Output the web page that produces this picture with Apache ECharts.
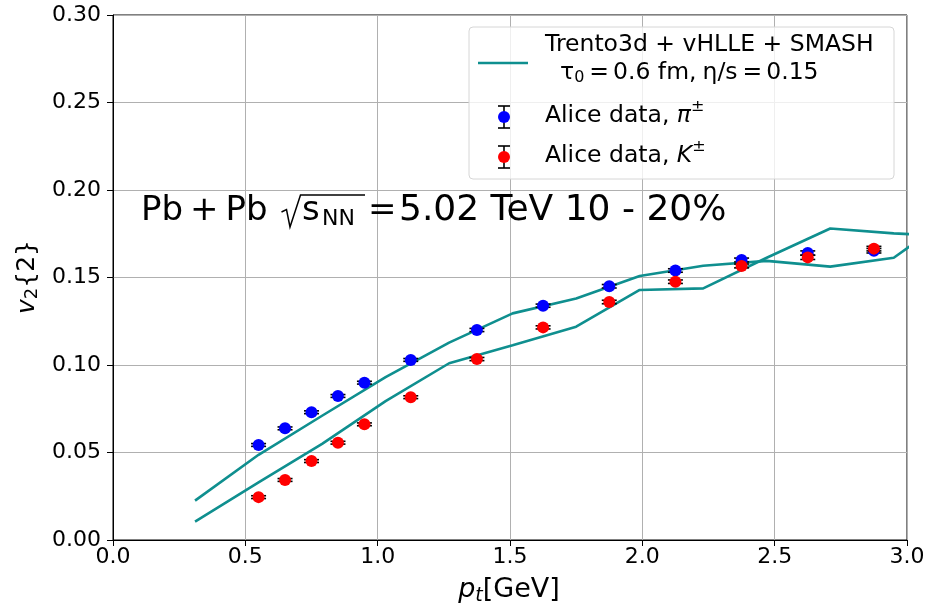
<!DOCTYPE html>
<html>
<head>
<meta charset="utf-8">
<script src="https://cdn.jsdelivr.net/npm/echarts@6/dist/echarts.min.js"></script>
<style>
html,body{margin:0;padding:0;background:#fff;}
#chart{width:928px;height:614px;}
</style>
</head>
<body>
<div id="chart"></div>
<script>
// ---- data ----
const ptModel = [0.31, 0.55, 0.79, 1.03, 1.27, 1.51, 1.75, 1.99, 2.23, 2.47, 2.71, 2.95, 3.19];
const v2PionModel = [0.0225, 0.0487, 0.0710, 0.0931, 0.1128, 0.1295, 0.1380, 0.1509, 0.1567, 0.1595, 0.1562, 0.1613, 0.1870];
const v2KaonModel = [0.0105, 0.0329, 0.0549, 0.0794, 0.1010, 0.1113, 0.1219, 0.1429, 0.1438, 0.1613, 0.1780, 0.1752, 0.1735];

const ptData = [0.55, 0.65, 0.75, 0.85, 0.95, 1.125, 1.375, 1.625, 1.875, 2.125, 2.375, 2.625, 2.875];
const v2Pion = [0.0543, 0.0638, 0.0730, 0.0823, 0.0899, 0.1029, 0.1200, 0.1339, 0.1450, 0.1540, 0.1600, 0.1640, 0.1653];
const v2PionErr = [0.0008, 0.0008, 0.0008, 0.0008, 0.0008, 0.0008, 0.0009, 0.0009, 0.0010, 0.0010, 0.0011, 0.0012, 0.0013];
const v2Kaon = [0.0245, 0.0343, 0.0451, 0.0556, 0.0661, 0.0816, 0.1034, 0.1215, 0.1360, 0.1476, 0.1566, 0.1615, 0.1665];
const v2KaonErr = [0.0008, 0.0008, 0.0008, 0.0008, 0.0008, 0.0008, 0.0009, 0.0009, 0.0010, 0.0010, 0.0011, 0.0012, 0.0013];

const xTicks = [0.0, 0.5, 1.0, 1.5, 2.0, 2.5, 3.0];
const yTicks = [0.00, 0.05, 0.10, 0.15, 0.20, 0.25, 0.30];

// ---- helpers ----
const FONT = '"DejaVu Sans", "Liberation Sans", sans-serif';
const TEAL = '#0f8f8f';
const mctx = document.createElement('canvas').getContext('2d');
function tw(t, fs, italic) {
  mctx.font = (italic ? 'italic ' : '') + fs + 'px ' + FONT;
  return mctx.measureText(t).width;
}
// compose a run of text pieces starting at x (left), centre line y
function runs(x, y, parts) {
  const out = [];
  let cx = x;
  parts.forEach(p => {
    if (p.gap) { cx += p.gap; return; }
    if (p.x !== undefined) cx = p.x;
    const w = tw(p.t, p.fs, p.italic);
    out.push({
      type: 'text', x: cx, y: y + (p.dy || 0), z: 100,
      style: {
        text: p.t, fill: '#000', fontSize: p.fs, fontFamily: FONT,
        fontStyle: p.italic ? 'italic' : 'normal',
        verticalAlign: 'middle', align: 'left'
      }
    });
    p._x = cx; p._w = w;
    cx += w;
  });
  return {els: out, width: cx - x, parts: parts};
}
function runsWidth(parts) {
  let w = 0;
  parts.forEach(p => { w += p.gap ? p.gap : tw(p.t, p.fs, p.italic); });
  return w;
}

const chart = echarts.init(document.getElementById('chart'), null, {renderer: 'canvas'});

const toPairs = (xs, ys) => xs.map((x, i) => [x, ys[i]]);
const toErr = (xs, ys, es) => xs.map((x, i) => [x, ys[i], es[i]]);

function errRender(params, api) {
  const x = api.value(0), y = api.value(1), e = api.value(2);
  const lo = api.coord([x, y - e]);
  const hi = api.coord([x, y + e]);
  const hw = 7.5;
  const st = {stroke: '#000', lineWidth: 1.6};
  return {
    type: 'group',
    children: [
      {type: 'line', shape: {x1: lo[0], y1: lo[1], x2: hi[0], y2: hi[1]}, style: st},
      {type: 'line', shape: {x1: lo[0] - hw, y1: lo[1], x2: lo[0] + hw, y2: lo[1]}, style: st},
      {type: 'line', shape: {x1: hi[0] - hw, y1: hi[1], x2: hi[0] + hw, y2: hi[1]}, style: st}
    ]
  };
}

// ---- text graphics ----
const graphics = [];

// Annotation: Pb + Pb sqrt(s_NN) = 5.02 TeV 10 - 20%
const AF = 34;
const annParts = [
  {t: 'Pb', fs: AF, x: 141},
  {gap: 7},
  {t: '+', fs: AF},
  {gap: 7},
  {t: 'Pb', fs: AF},
  {t: 's', fs: AF, x: 302},
  {t: 'NN', fs: 22, dy: 8, x: 322},
  {t: '=', fs: AF, x: 368},
  {t: '5.02 TeV 10 - 20%', fs: 36, x: 399}
];
graphics.push(...runs(141, 211, annParts).els);
// radical sign with overline
graphics.push({type: 'polyline', z: 100,
  shape: {points: [[281.5, 212], [286.5, 209.5], [290, 227], [300.5, 195], [365, 195]]},
  style: {stroke: '#000', lineWidth: 1.5, fill: null}});

// Legend box
graphics.push({
  type: 'rect', z: 90,
  shape: {x: 469, y: 27, width: 425, height: 152, r: 4},
  style: {fill: 'rgba(255,255,255,0.8)', stroke: '#d6d6d6', lineWidth: 1}
});
graphics.push({type: 'line', z: 95, shape: {x1: 478, y1: 63, x2: 528, y2: 63}, style: {stroke: TEAL, lineWidth: 2.6}});
const LF = 23.5;
graphics.push(...runs(545, 45, [{t: 'Trento3d + vHLLE + SMASH', fs: LF}]).els);
graphics.push(...runs(560, 72.5, [
  {t: '\u03C4', fs: LF}, {t: '0', fs: 16, dy: 5}, {gap: 5}, {t: '=', fs: LF}, {gap: 4},
  {t: '0.6 fm,', fs: LF}, {gap: 6}, {t: '\u03B7/s', fs: LF}, {gap: 5}, {t: '=', fs: LF}, {gap: 4}, {t: '0.15', fs: LF}
]).els);
function legendMarker(cx, cy, color) {
  const st = {stroke: '#000', lineWidth: 1.6};
  graphics.push({type: 'line', z: 95, shape: {x1: cx, y1: cy - 11, x2: cx, y2: cy + 11}, style: st});
  graphics.push({type: 'line', z: 95, shape: {x1: cx - 6, y1: cy - 11, x2: cx + 6, y2: cy - 11}, style: st});
  graphics.push({type: 'line', z: 95, shape: {x1: cx - 6, y1: cy + 11, x2: cx + 6, y2: cy + 11}, style: st});
  graphics.push({type: 'circle', z: 96, shape: {cx: cx, cy: cy, r: 6}, style: {fill: color}});
}
legendMarker(504, 117, '#0000ff');
legendMarker(504, 157, '#ff0000');
graphics.push(...runs(545, 116, [{t: 'Alice data, ', fs: LF}, {t: '\u03C0', fs: LF, italic: true}, {t: '\u00B1', fs: 16, dy: -9}]).els);
graphics.push(...runs(545, 156, [{t: 'Alice data, ', fs: LF}, {t: 'K', fs: LF, italic: true}, {t: '\u00B1', fs: 16, dy: -9}]).els);

// x axis title
const xtParts = [{t: 'p', fs: 27, italic: true}, {t: 't', fs: 19, italic: true, dy: 6}, {t: '[GeV]', fs: 27}];
const xtW = runsWidth(xtParts);
graphics.push(...runs(509 - xtW / 2, 590, xtParts).els);

// y axis title (rotated)
const ytParts = [{t: 'v', fs: 25, italic: true}, {t: '2', fs: 18, dy: 5}, {t: '{2}', fs: 25}];
const ytW = runsWidth(ytParts);
const yt = runs(-ytW / 2, 0, ytParts);
graphics.push({type: 'group', x: 27, y: 277, rotation: Math.PI / 2, z: 100, children: yt.els});

const option = {
  backgroundColor: '#fff',
  animation: false,
  grid: {left: 113, right: 21, top: 15, bottom: 74, show: true, borderColor: '#000', borderWidth: 1, backgroundColor: 'transparent'},
  xAxis: {
    type: 'value', min: 0, max: 3, interval: 0.5,
    axisLine: {show: true, onZero: false, lineStyle: {color: '#000', width: 1}},
    axisTick: {show: true, inside: false, length: 6, lineStyle: {color: '#000', width: 1}},
    axisLabel: {color: '#000', fontSize: 22, fontFamily: FONT, margin: 6,
      formatter: v => { const t = xTicks.find(k => Math.abs(k - v) < 1e-9); return t === undefined ? '' : t.toFixed(1); }},
    splitLine: {show: true, lineStyle: {color: '#b0b0b0', width: 1}}
  },
  yAxis: {
    type: 'value', min: 0, max: 0.3, interval: 0.05,
    axisLine: {show: true, onZero: false, lineStyle: {color: '#000', width: 1}},
    axisTick: {show: true, inside: false, length: 6, lineStyle: {color: '#000', width: 1}},
    axisLabel: {color: '#000', fontSize: 22, fontFamily: FONT, margin: 12,
      formatter: v => { const t = yTicks.find(k => Math.abs(k - v) < 1e-9); return t === undefined ? '' : t.toFixed(2); }},
    splitLine: {show: true, lineStyle: {color: '#b0b0b0', width: 1}}
  },
  series: [
    {type: 'line', data: toPairs(ptModel, v2PionModel), showSymbol: false, symbol: 'none', clip: true, z: 2,
      lineStyle: {color: TEAL, width: 2.6}},
    {type: 'line', data: toPairs(ptModel, v2KaonModel), showSymbol: false, symbol: 'none', clip: true, z: 2,
      lineStyle: {color: TEAL, width: 2.6}},
    {type: 'custom', renderItem: errRender, data: toErr(ptData, v2Pion, v2PionErr), z: 3, encode: {x: 0, y: 1}},
    {type: 'scatter', data: toPairs(ptData, v2Pion), symbol: 'circle', symbolSize: 12, z: 4,
      itemStyle: {color: '#0000ff', opacity: 1}},
    {type: 'custom', renderItem: errRender, data: toErr(ptData, v2Kaon, v2KaonErr), z: 5, encode: {x: 0, y: 1}},
    {type: 'scatter', data: toPairs(ptData, v2Kaon), symbol: 'circle', symbolSize: 12, z: 6,
      itemStyle: {color: '#ff0000', opacity: 1}}
  ],
  graphic: graphics
};
chart.setOption(option);
</script>
</body>
</html>
